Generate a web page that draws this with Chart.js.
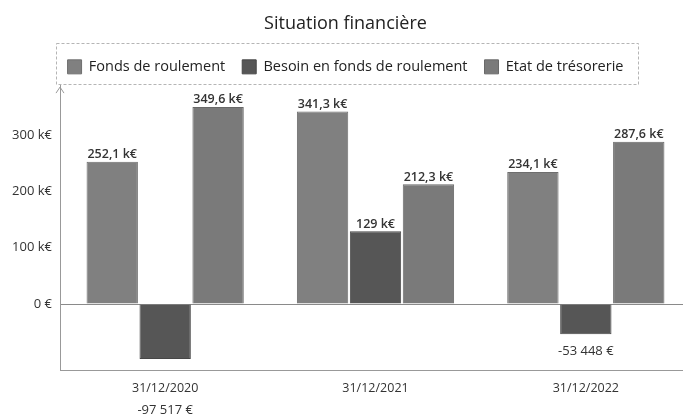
<!DOCTYPE html>
<html>
<head>
<meta charset="utf-8">
<script src="https://cdn.jsdelivr.net/npm/chart.js@4.4.1/dist/chart.umd.min.js"></script>
<style>
  html, body { margin: 0; padding: 0; background: #fff; overflow: hidden; }
  /* le graphique d'origine est coupé à droite */
  #wrap { width: 691px; height: 416px; }
</style>
</head>
<body>
<div id="wrap"><canvas id="chartSituation"></canvas></div>
<script>
// données
const dates = ["31/12/2020", "31/12/2021", "31/12/2022"];
const fondsRoulement = [252100, 341300, 234100];
const besoinFonds = [-97517, 129000, -53448];
const etatTresorerie = [349600, 212300, 287600];
const yTicks = [0, 100000, 200000, 300000];

function formatEuro(v) {
    if (Math.abs(v) >= 100000) {
        let s = (v / 1000).toFixed(1).replace(".", ",");
        if (s.endsWith(",0")) s = s.slice(0, -2);
        return s + " k€";
    }
    const signe = v < 0 ? "-" : "";
    return signe + Math.abs(v).toString().replace(/\B(?=(\d{3})+(?!\d))/g, " ") + " €";
}

function formatAxe(v) {
    return v === 0 ? "0 €" : (v / 1000) + " k€";
}

const FONT = "'Open Sans', 'Noto Sans', sans-serif";

// cadre pointillé autour de la légende
const cadreLegende = {
    id: "cadreLegende",
    afterDraw(chart) {
        const lg = chart.legend;
        if (!lg || !lg.legendHitBoxes.length) return;
        const boxes = lg.legendHitBoxes;
        const first = boxes[0], last = boxes[boxes.length - 1];
        const ctx = chart.ctx;
        ctx.save();
        ctx.strokeStyle = "#b5b5b5";
        ctx.lineWidth = 1;
        ctx.setLineDash([3, 2]);
        const x0 = Math.round(first.left - 12) + 0.5;
        const x1 = Math.round(last.left + last.width + 15) + 0.5;
        ctx.strokeRect(x0, Math.round(lg.top) + 0.5, x1 - x0, Math.round(lg.height) - 1);
        ctx.restore();
    }
};

// petite flèche en haut de l'axe Y
const flecheAxe = {
    id: "flecheAxe",
    afterDraw(chart) {
        const a = chart.chartArea;
        const ctx = chart.ctx;
        ctx.save();
        ctx.strokeStyle = "#999";
        ctx.lineWidth = 1;
        ctx.beginPath();
        ctx.moveTo(a.left - 4, a.top + 9);
        ctx.lineTo(a.left, a.top + 3);
        ctx.lineTo(a.left + 4, a.top + 9);
        ctx.stroke();
        ctx.restore();
    }
};

// valeurs au-dessus / en dessous des barres
const etiquettes = {
    id: "etiquettes",
    afterDatasetsDraw(chart) {
        const ctx = chart.ctx;
        const a = chart.chartArea;
        ctx.save();
        ctx.fillStyle = "#333";
        ctx.textAlign = "center";
        chart.data.datasets.forEach((ds, i) => {
            const meta = chart.getDatasetMeta(i);
            meta.data.forEach((bar, j) => {
                const v = ds.data[j];
                const txt = formatEuro(v);
                if (v >= 0) {
                    ctx.font = "600 12.5px " + FONT;
                    ctx.textBaseline = "bottom";
                    ctx.fillText(txt, bar.x, bar.y - 1);
                } else {
                    ctx.font = "13px " + FONT;
                    ctx.textBaseline = "middle";
                    let y = bar.y + 17;
                    // trop près de l'axe : l'étiquette passe sous la date
                    if (y > a.bottom - 8) y = a.bottom + 40;
                    ctx.fillText(txt, bar.x, y);
                }
            });
        });
        ctx.restore();
    }
};

const ctx = document.getElementById("chartSituation").getContext("2d");

const chartSituation = new Chart(ctx, {
    type: "bar",
    data: {
        labels: dates,
        datasets: [
            {
                label: "Fonds de roulement",
                data: fondsRoulement,
                backgroundColor: "#808080",
                borderColor: "#6e6e6e",
                borderWidth: 1
            },
            {
                label: "Besoin en fonds de roulement",
                data: besoinFonds,
                backgroundColor: "#565656",
                borderColor: "#474747",
                borderWidth: 1
            },
            {
                label: "Etat de trésorerie",
                data: etatTresorerie,
                backgroundColor: "#7a7a7a",
                borderColor: "#686868",
                borderWidth: 1
            }
        ]
    },
    options: {
        responsive: true,
        maintainAspectRatio: false,
        animation: false,
        devicePixelRatio: 1,
        layout: { padding: 0 },
        datasets: {
            bar: { categoryPercentage: 0.755, barPercentage: 0.97 }
        },
        plugins: {
            title: {
                display: true,
                text: "Situation financière",
                color: "#222",
                font: { family: FONT, size: 18, weight: "normal" },
                padding: { top: 13, bottom: 8 }
            },
            legend: {
                position: "top",
                labels: {
                    boxWidth: 14,
                    boxHeight: 14,
                    padding: 17,
                    color: "#222",
                    font: { family: FONT, size: 14.5 }
                }
            },
            tooltip: { enabled: false }
        },
        scales: {
            x: {
                type: "category",
                grid: { display: false },
                border: { display: true, color: "#999" },
                afterFit: scale => { scale.height = 46; },
                ticks: {
                    autoSkip: false,
                    maxRotation: 0,
                    padding: 3,
                    color: "#333",
                    font: { family: FONT, size: 12.5 }
                }
            },
            y: {
                min: -117000,
                max: 390000,
                afterBuildTicks: scale => { scale.ticks = yTicks.map(v => ({ value: v })); },
                afterFit: scale => { scale.width = 60; },
                grid: {
                    drawTicks: false,
                    color: c => (c.tick && c.tick.value === 0) ? "#8a8a8a" : "rgba(0,0,0,0)"
                },
                border: { display: true, color: "#999" },
                ticks: {
                    padding: 8,
                    color: "#333",
                    font: { family: FONT, size: 13 },
                    callback: v => formatAxe(v)
                }
            }
        }
    },
    plugins: [cadreLegende, flecheAxe, etiquettes]
});
</script>
</body>
</html>
